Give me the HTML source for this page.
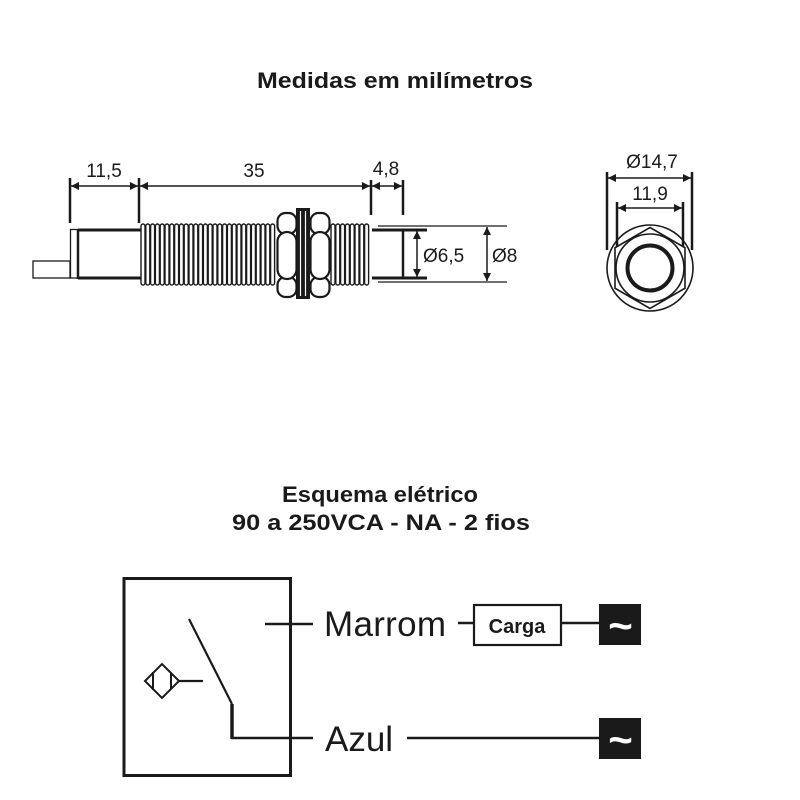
<!DOCTYPE html>
<html><head><meta charset="utf-8"><style>
html,body{margin:0;padding:0;background:#fff;}
svg{display:block;}
text{font-family:"Liberation Sans",Arial,sans-serif;fill:#1a1a1a;}
</style></head><body>
<svg width="800" height="800" viewBox="0 0 800 800" xmlns="http://www.w3.org/2000/svg">
<defs>
<marker id="ar" viewBox="0 0 10 10" refX="10" refY="5" markerWidth="9" markerHeight="8" markerUnits="userSpaceOnUse" orient="auto-start-reverse">
<path d="M0,0 L10,5 L0,10 Z" fill="#1a1a1a"/>
</marker>
</defs>

<!-- Titles -->
<text x="395" y="88" text-anchor="middle" font-size="22" font-weight="bold" textLength="276" lengthAdjust="spacingAndGlyphs">Medidas em  milímetros</text>
<text x="380" y="502" text-anchor="middle" font-size="22" font-weight="bold" textLength="196" lengthAdjust="spacingAndGlyphs">Esquema elétrico</text>
<text x="381" y="530" text-anchor="middle" font-size="22" font-weight="bold" textLength="298" lengthAdjust="spacingAndGlyphs">90 a 250VCA - NA - 2 fios</text>

<!-- Side view -->
<g stroke="#1a1a1a" fill="none">
  <rect x="33" y="261" width="37" height="17" stroke-width="1.3"/>
  <rect x="70.5" y="229.5" width="7.5" height="48.5" stroke-width="1.3"/>
  <line x1="78" y1="229" x2="78" y2="279" stroke-width="2.5"/>
  <line x1="78" y1="230" x2="141" y2="230" stroke-width="3"/>
  <line x1="78" y1="278" x2="141" y2="278" stroke-width="3"/>
</g>

<!-- threads -->
<g stroke="#1a1a1a" stroke-width="1.4" fill="none">
  <rect x="141" y="224" width="4" height="61" rx="2"/>
  <rect x="145.8" y="224" width="4" height="61" rx="2"/>
  <rect x="150.6" y="224" width="4" height="61" rx="2"/>
  <rect x="155.4" y="224" width="4" height="61" rx="2"/>
  <rect x="160.2" y="224" width="4" height="61" rx="2"/>
  <rect x="165" y="224" width="4" height="61" rx="2"/>
  <rect x="169.8" y="224" width="4" height="61" rx="2"/>
  <rect x="174.6" y="224" width="4" height="61" rx="2"/>
  <rect x="179.4" y="224" width="4" height="61" rx="2"/>
  <rect x="184.2" y="224" width="4" height="61" rx="2"/>
  <rect x="189" y="224" width="4" height="61" rx="2"/>
  <rect x="193.8" y="224" width="4" height="61" rx="2"/>
  <rect x="198.6" y="224" width="4" height="61" rx="2"/>
  <rect x="203.4" y="224" width="4" height="61" rx="2"/>
  <rect x="208.2" y="224" width="4" height="61" rx="2"/>
  <rect x="213" y="224" width="4" height="61" rx="2"/>
  <rect x="217.8" y="224" width="4" height="61" rx="2"/>
  <rect x="222.6" y="224" width="4" height="61" rx="2"/>
  <rect x="227.4" y="224" width="4" height="61" rx="2"/>
  <rect x="232.2" y="224" width="4" height="61" rx="2"/>
  <rect x="237" y="224" width="4" height="61" rx="2"/>
  <rect x="241.8" y="224" width="4" height="61" rx="2"/>
  <rect x="246.6" y="224" width="4" height="61" rx="2"/>
  <rect x="251.4" y="224" width="4" height="61" rx="2"/>
  <rect x="256.2" y="224" width="4" height="61" rx="2"/>
  <rect x="261" y="224" width="4" height="61" rx="2"/>
  <rect x="265.8" y="224" width="4" height="61" rx="2"/>
  <rect x="270.6" y="224" width="4" height="61" rx="2"/>
  <rect x="331" y="224" width="4" height="61" rx="2"/>
  <rect x="335.8" y="224" width="4" height="61" rx="2"/>
  <rect x="340.6" y="224" width="4" height="61" rx="2"/>
  <rect x="345.4" y="224" width="4" height="61" rx="2"/>
  <rect x="350.2" y="224" width="4" height="61" rx="2"/>
  <rect x="355" y="224" width="4" height="61" rx="2"/>
  <rect x="359.8" y="224" width="4" height="61" rx="2"/>
  <rect x="364.6" y="224" width="4" height="61" rx="2"/>
</g>

<!-- nuts -->
<g stroke="#1a1a1a" stroke-width="2.2" fill="#fff">
  <rect x="277.5" y="213" width="19" height="21" rx="8"/>
  <rect x="277.5" y="277" width="19" height="20" rx="8"/>
  <rect x="277.5" y="232" width="19" height="47" rx="9.5"/>
  <rect x="310.5" y="213" width="19" height="21" rx="8"/>
  <rect x="310.5" y="277" width="19" height="20" rx="8"/>
  <rect x="310.5" y="232" width="19" height="47" rx="9.5"/>
</g>
<rect x="296" y="208" width="14" height="91" fill="#1a1a1a"/>
<line x1="300.5" y1="211" x2="300.5" y2="296" stroke="#fff" stroke-width="1.2"/>
<line x1="305.5" y1="211" x2="305.5" y2="296" stroke="#fff" stroke-width="1.2"/>

<!-- end cap -->
<g stroke="#1a1a1a" fill="none">
  <line x1="372" y1="230" x2="427" y2="230" stroke-width="3"/>
  <line x1="372" y1="278" x2="427" y2="278" stroke-width="3"/>
  <line x1="403" y1="229" x2="403" y2="279" stroke-width="2.5"/>
  <line x1="378" y1="226" x2="507" y2="226" stroke-width="1.3"/>
  <line x1="378" y1="282" x2="507" y2="282" stroke-width="1.3"/>
</g>

<!-- dimensions side view -->
<g stroke="#1a1a1a" stroke-width="2.5">
  <line x1="70" y1="178" x2="70" y2="223"/>
  <line x1="139" y1="178" x2="139" y2="223"/>
  <line x1="371" y1="180" x2="371" y2="215"/>
  <line x1="403" y1="180" x2="403" y2="215"/>
</g>
<g stroke="#1a1a1a" stroke-width="1.5" fill="none">
  <line x1="71" y1="186" x2="138" y2="186" marker-start="url(#ar)" marker-end="url(#ar)"/>
  <line x1="140" y1="186" x2="370" y2="186" marker-start="url(#ar)" marker-end="url(#ar)"/>
  <line x1="372" y1="186" x2="402" y2="186" marker-start="url(#ar)" marker-end="url(#ar)"/>
  <line x1="417" y1="231" x2="417" y2="277" marker-start="url(#ar)" marker-end="url(#ar)"/>
  <line x1="487" y1="227" x2="487" y2="281" marker-start="url(#ar)" marker-end="url(#ar)"/>
</g>
<text x="104" y="177" text-anchor="middle" font-size="19">11,5</text>
<text x="254" y="177" text-anchor="middle" font-size="19">35</text>
<text x="386" y="175" text-anchor="middle" font-size="19">4,8</text>
<text x="423" y="262" font-size="19">Ø6,5</text>
<text x="492" y="262" font-size="19">Ø8</text>

<!-- front view -->
<g stroke="#1a1a1a" fill="none">
  <circle cx="650" cy="268" r="43" stroke-width="1.6"/>
  <polygon points="650,227.5 685,247.75 685,288.25 650,308.5 615,288.25 615,247.75" stroke-width="1.6"/>
  <circle cx="650" cy="268" r="34" stroke-width="1.6"/>
  <circle cx="650" cy="268" r="22.5" stroke-width="4"/>
</g>
<g stroke="#1a1a1a" stroke-width="2.5">
  <line x1="607" y1="172" x2="607" y2="250"/>
  <line x1="692" y1="172" x2="692" y2="250"/>
  <line x1="617" y1="202" x2="617" y2="247"/>
  <line x1="683" y1="202" x2="683" y2="247"/>
</g>
<g stroke="#1a1a1a" stroke-width="1.5">
  <line x1="608" y1="178" x2="691" y2="178" marker-start="url(#ar)" marker-end="url(#ar)"/>
  <line x1="618" y1="208" x2="682" y2="208" marker-start="url(#ar)" marker-end="url(#ar)"/>
</g>
<text x="652" y="168" text-anchor="middle" font-size="19">Ø14,7</text>
<text x="650" y="200" text-anchor="middle" font-size="19">11,9</text>

<!-- Schematic -->
<rect x="124" y="578.5" width="166.5" height="197" fill="none" stroke="#1a1a1a" stroke-width="3"/>
<g stroke="#1a1a1a" fill="none">
  <polygon points="145,681 162,664 179,681 162,698" stroke-width="2"/>
  <line x1="153" y1="672" x2="153" y2="690" stroke-width="2"/>
  <line x1="171" y1="673" x2="171" y2="689" stroke-width="2"/>
  <line x1="179" y1="681" x2="203" y2="681" stroke-width="2.2"/>
  <line x1="189" y1="619" x2="232" y2="704" stroke-width="2.2"/>
  <line x1="232" y1="704" x2="232" y2="739" stroke-width="3.5"/>
  <line x1="231" y1="738" x2="313" y2="738" stroke-width="2.5"/>
  <line x1="265" y1="624" x2="313" y2="624" stroke-width="2.5"/>
  <line x1="458" y1="623" x2="474" y2="623" stroke-width="2.5"/>
  <rect x="474" y="605" width="87" height="40" stroke-width="2.2"/>
  <line x1="561" y1="623" x2="600" y2="623" stroke-width="2.5"/>
  <line x1="407" y1="738" x2="600" y2="738" stroke-width="2.5"/>
</g>
<text x="324" y="636" font-size="35" letter-spacing="0.3">Marrom</text>
<text x="325" y="751" font-size="35">Azul</text>
<text x="517" y="633" text-anchor="middle" font-size="20" font-weight="bold">Carga</text>
<rect x="599" y="604" width="42" height="41" fill="#1a1a1a"/>
<rect x="599" y="718" width="42" height="41" fill="#1a1a1a"/>
<text x="620.5" y="640" text-anchor="middle" font-size="42" font-weight="bold" style="fill:#fff">~</text>
<text x="620.5" y="754" text-anchor="middle" font-size="42" font-weight="bold" style="fill:#fff">~</text>
</svg>
</body></html>
